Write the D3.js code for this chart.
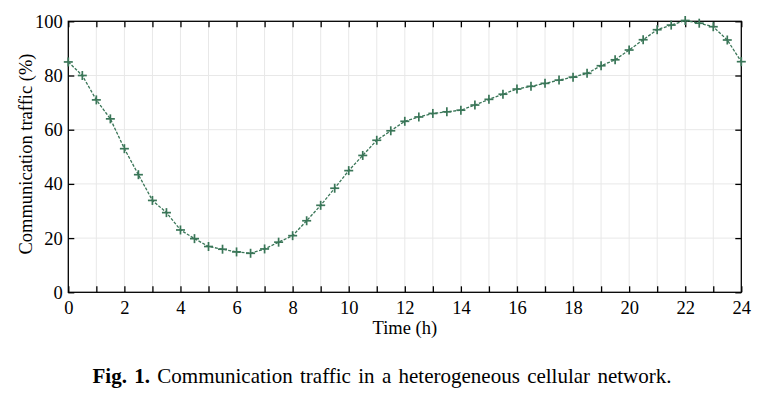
<!DOCTYPE html>
<html><head><meta charset="utf-8">
<script src="https://cdn.jsdelivr.net/npm/d3@7"></script>
<style>
body{margin:0;background:#fff;}
svg{display:block;}
</style></head>
<body><svg id="c" width="772" height="399"></svg>
<script>
const hours = [0,0.5,1,1.5,2,2.5,3,3.5,4,4.5,5,5.5,6,6.5,7,7.5,8,8.5,9,9.5,10,10.5,11,11.5,12,12.5,13,13.5,14,14.5,15,15.5,16,16.5,17,17.5,18,18.5,19,19.5,20,20.5,21,21.5,22,22.5,23,23.5,24];
const traffic = [85,80,71,64,53,43.4,33.9,29.4,23,19.8,16.9,15.9,14.9,14.4,16,18.5,20.9,26.4,32.1,38.4,44.9,50.5,56.1,59.6,63.1,64.7,66,66.6,67.2,69.1,71.2,73.1,75,76,77.1,78.3,79.4,80.8,83.6,85.8,89.4,93.2,96.9,98.6,100.3,99.3,98,93.1,85.1];
const xTicks = [0,2,4,6,8,10,12,14,16,18,20,22,24];
const yTicks = [0,20,40,60,80,100];
const xLabel = "Time (h)";
const yLabel = "Communication traffic (%)";
const captionBold = "Fig. 1.";
const captionText = "Communication traffic in a heterogeneous cellular network.";

const FONT = "Liberation Serif";
const svg = d3.select("#c");
const L = 68.3, R = 741.3, T = 21.3, B = 292.3;
const x = d3.scaleLinear().domain([0,24]).range([L,R]);
const y = d3.scaleLinear().domain([0,100]).range([B,T]);

// grid
const g = svg.append("g");
g.selectAll("line.vg").data(d3.range(1,24)).join("line")
  .attr("x1",d=>x(d)).attr("x2",d=>x(d)).attr("y1",T).attr("y2",B)
  .attr("stroke","#e8e8e8").attr("stroke-width",1);
g.selectAll("line.hg").data([20,40,60,80]).join("line")
  .attr("x1",L).attr("x2",R).attr("y1",d=>y(d)).attr("y2",d=>y(d))
  .attr("stroke","#e8e8e8").attr("stroke-width",1);

// axes with inward ticks
const hourTicks = d3.range(0,25);
const axB = d3.axisBottom(x).tickValues(hourTicks).tickSizeInner(-6).tickSizeOuter(0).tickFormat(d=> xTicks.includes(d)? d : "").tickPadding(8.5);
const axT = d3.axisTop(x).tickValues(hourTicks).tickSizeInner(-6).tickSizeOuter(0).tickFormat("");
const axLft = d3.axisLeft(y).tickValues(yTicks).tickSizeInner(-6).tickSizeOuter(0).tickPadding(5.6);
const axRt = d3.axisRight(y).tickValues(yTicks).tickSizeInner(-6).tickSizeOuter(0).tickFormat("");
function style(sel){
  sel.attr("font-family",null).attr("font-size",null);
  sel.select(".domain").remove();
  sel.selectAll(".tick line").attr("stroke","#000").attr("stroke-width",1.3);
  sel.selectAll(".tick text").attr("fill","#000").style("font-family",FONT).style("font-size","18.5px");
}
svg.append("g").attr("transform",`translate(0,${B})`).call(axB).call(style);
svg.append("g").attr("transform",`translate(0,${T})`).call(axT).call(style);
svg.append("g").attr("transform",`translate(${L},0)`).call(axLft).call(style);
svg.append("g").attr("transform",`translate(${R},0)`).call(axRt).call(style);
svg.append("rect").attr("x",L).attr("y",T).attr("width",R-L).attr("height",B-T)
  .attr("fill","none").attr("stroke","#000").attr("stroke-width",1.3);

// line
const col = "#3a7658";
const line = d3.line().x((d,i)=>x(hours[i])).y(d=>y(d)).curve(d3.curveLinear);
svg.append("path").datum(traffic).attr("d",line).attr("fill","none")
  .attr("stroke",col).attr("stroke-width",1.3).attr("stroke-dasharray","3,1.5");
const m = 4.5;
const mk = svg.append("g").attr("stroke",col).attr("stroke-width",1.7);
traffic.forEach((v,i)=>{
  const cx = x(hours[i]), cy = y(v);
  mk.append("line").attr("x1",cx-m).attr("x2",cx+m).attr("y1",cy).attr("y2",cy);
  mk.append("line").attr("x1",cx).attr("x2",cx).attr("y1",cy-m).attr("y2",cy+m);
});

// labels
svg.append("text").attr("x",(L+R)/2).attr("y",334).attr("text-anchor","middle")
  .style("font-family",FONT).style("font-size","18.5px").text(xLabel);
svg.append("text").attr("transform",`translate(31.5,154) rotate(-90)`).attr("text-anchor","middle")
  .style("font-family",FONT).style("font-size","18.5px").text(yLabel);

// caption (justified to span like the reference)
const cap = svg.append("text").attr("x",92.5).attr("y",383).style("font-family",FONT).style("font-size","21px");
cap.append("tspan").style("font-weight","bold").text(captionBold);
cap.append("tspan").text(" " + captionText);
const target = 579;
const w = cap.node().getComputedTextLength();
const nSpaces = (captionBold + " " + captionText).split(" ").length - 1;
const extra = Math.max(0, (target - w) / nSpaces);
cap.style("word-spacing", extra + "px");
</script></body></html>
